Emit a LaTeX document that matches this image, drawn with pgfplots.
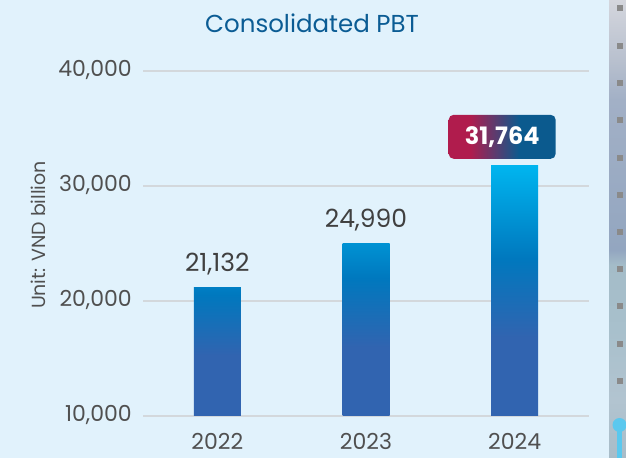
\documentclass[border=0pt]{standalone}
\usepackage{pgfplots}
\pgfplotsset{compat=1.18}
\usepackage{fontspec}
\setmainfont{Poppins}
\definecolor{bg}{HTML}{E1F2FC}
\definecolor{titlec}{HTML}{0B5C94}
\definecolor{tickc}{HTML}{505050}
\definecolor{valc}{HTML}{404040}
\definecolor{gridc}{HTML}{D3D8DC}
\definecolor{cten}{HTML}{3164B0}
\definecolor{ctwenty}{HTML}{0078BE}
\definecolor{topA}{HTML}{007EC3}
\definecolor{topB}{HTML}{0092D3}
\definecolor{topC}{HTML}{00B5EF}
\definecolor{boxred}{HTML}{B01C4D}
\definecolor{boxblue}{HTML}{0B5A8E}
\definecolor{sA}{HTML}{D4D6DD}
\definecolor{sB}{HTML}{B8C0CE}
\definecolor{sC}{HTML}{A2B0C6}
\definecolor{sD}{HTML}{93A6C0}
\definecolor{sE}{HTML}{A4BCC8}
\definecolor{sF}{HTML}{A8C0CC}
\definecolor{sG}{HTML}{B2C4D0}
\definecolor{sH}{HTML}{A8BCC8}
\definecolor{dotc}{HTML}{8A8A8A}
\definecolor{pinc}{HTML}{5BC8EE}
% bars drawn from 0, clipped at 10000: 25bp -> 0, 75bp -> top
\pgfdeclareverticalshading{barA}{100bp}{color(0bp)=(cten); color(48.66bp)=(cten); color(72.32bp)=(ctwenty); color(75bp)=(topA); color(100bp)=(topA)}
\pgfdeclareverticalshading{barB}{100bp}{color(0bp)=(cten); color(45.01bp)=(cten); color(65.01bp)=(ctwenty); color(75bp)=(topB); color(100bp)=(topB)}
\pgfdeclareverticalshading{barC}{100bp}{color(0bp)=(cten); color(40.74bp)=(cten); color(56.48bp)=(ctwenty); color(75bp)=(topC); color(100bp)=(topC)}
\pgfdeclarehorizontalshading{boxsh}{100bp}{color(0bp)=(boxred); color(35bp)=(boxred); color(58bp)=(boxblue); color(100bp)=(boxblue)}
\pgfdeclareverticalshading{stripsh}{100bp}{color(0bp)=(sH); color(25bp)=(sH); color(31.3bp)=(sG); color(39bp)=(sF); color(46.1bp)=(sE); color(47.7bp)=(sD); color(64.1bp)=(sC); color(68.4bp)=(sB); color(75bp)=(sA); color(100bp)=(sA)}
\begin{document}
\begin{tikzpicture}
\useasboundingbox (0,0) rectangle (626bp,458bp);
\fill[bg] (0,0) rectangle (626bp,458bp);
% decorative right strip
\shade[shading=stripsh] (609bp,0) rectangle (626bp,458bp);
\foreach \yy in {5,42.7,80,116.7,155,192,229,265.7,302.7,340.7,377.7}{
  \fill[dotc] (616.7bp,{(458-\yy-6)*1bp}) rectangle (622.7bp,{(458-\yy)*1bp});
}
\fill[pinc] (617bp,0) rectangle (622bp,33bp);
\fill[pinc] (619.5bp,33bp) circle (7bp);
\begin{axis}[
  at={(143bp,42bp)}, anchor=south west,
  scale only axis, width=446bp, height=345bp,
  xmin=-0.5, xmax=2.5, ymin=10000, ymax=40000,
  xtick={0,1,2}, xticklabels={2022,2023,2024},
  ytick={10000,20000,30000,40000},
  scaled y ticks=false,
  axis line style={draw=none}, major tick length=0pt,
  ymajorgrids, grid style={line width=1.6bp, gridc},
  /pgf/number format/assume math mode=true,
  /pgf/number format/1000 sep={,},
  tick label style={font=\fontsize{22bp}{26bp}\selectfont, text=tickc},
  y tick label style={anchor=mid east, inner sep=0pt, xshift=-11bp, yshift=-3bp},
  x tick label style={anchor=base, inner sep=0pt, yshift=-33bp},
  title={Consolidated PBT},
  title style={at={(axis description cs:0.379,1.12)}, anchor=center, font=\fontsize{24.5bp}{28bp}\selectfont, text=titlec},
  ylabel={Unit: VND billion},
  every axis y label/.style={at={(axis description cs:-0.2354,0.5246)}, rotate=90, anchor=center, font=\fontsize{19bp}{22bp}\selectfont, text=tickc},
  ybar, bar width=47bp,
  nodes near coords,
  every node near coord/.append style={anchor=base, yshift=16bp, font=\fontsize{25bp}{29bp}\selectfont, text=valc},
]
\addplot[bar shift=0pt, draw=none, shading=barA] coordinates {(0,21132)};
\addplot[bar shift=0pt, draw=none, shading=barB] coordinates {(1,24990)};
\addplot[bar shift=0pt, draw=none, shading=barC,
  every node near coord/.style={anchor=south, inner sep=0pt, minimum width=107bp, minimum height=44bp, xshift=-12.5bp, yshift=6.7bp, rounded corners=5pt, shading=boxsh, font=\bfseries\fontsize{24bp}{28bp}\selectfont, text=white}] coordinates {(2,31764)};
\end{axis}
\end{tikzpicture}
\end{document}
